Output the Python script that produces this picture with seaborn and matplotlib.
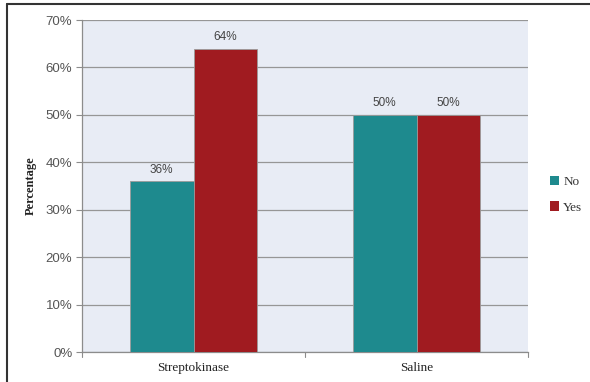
import matplotlib
matplotlib.use("Agg")
import matplotlib.pyplot as plt
import matplotlib.lines as mlines
from matplotlib.patches import Patch
from matplotlib.ticker import PercentFormatter
import pandas as pd
import seaborn as sns

groups = ["Streptokinase", "Saline"]
no_values = [36, 50]
yes_values = [64, 50]
series = ["No", "Yes"]
y_ticks = [0, 10, 20, 30, 40, 50, 60, 70]

colors = {"No": "#1E8A8E", "Yes": "#A01B20"}

df = pd.DataFrame({
    "group": groups * 2,
    "answer": ["No"] * len(groups) + ["Yes"] * len(groups),
    "value": no_values + yes_values,
})

sns.set_theme(style="white")
plt.rcParams["font.family"] = ["Liberation Serif", "DejaVu Serif"]

fig = plt.figure(figsize=(5.9, 3.82), dpi=100)
ax = fig.add_axes([0.139, 0.0785, 0.756, 0.869])
ax.set_facecolor("#E8ECF5")

sns.barplot(data=df, x="group", y="value", hue="answer", order=groups,
            hue_order=series, palette=colors, width=0.57, saturation=1,
            edgecolor="#9A9A9A", linewidth=0.6, legend=False, ax=ax, zorder=3)

ax.set_ylim(0, 70)
ax.set_xlim(-0.5, 1.5)
ax.set_yticks(y_ticks)
ax.yaxis.set_major_formatter(PercentFormatter(decimals=0))
ax.grid(axis="y", color="#969696", linewidth=0.9, zorder=0)
ax.set_axisbelow(True)

for side in ["top", "right"]:
    ax.spines[side].set_visible(False)
ax.spines["left"].set_color("#8C8C8C")
ax.spines["bottom"].set_color("#8C8C8C")
ax.spines["left"].set_linewidth(0.9)
ax.spines["bottom"].set_linewidth(0.9)

ax.tick_params(axis="y", length=4, width=0.8, color="#8C8C8C", labelsize=9.5,
               labelcolor="#555555", pad=3, left=True)
ax.tick_params(axis="x", length=0, labelsize=9.5, labelcolor="#222222", pad=7)
for lbl in ax.get_yticklabels():
    lbl.set_family(["Liberation Sans", "DejaVu Sans"])
for x in [-0.5, 0.5, 1.5]:
    ax.plot([x, x], [0, -1.0], color="#8C8C8C", lw=0.8, clip_on=False)

ax.set_xlabel("")
ax.set_ylabel("Percentage", fontsize=9, fontweight="bold", color="#222222",
              labelpad=6)

for container in ax.containers:
    ax.bar_label(container, labels=[f"{v:.0f}%" for v in container.datavalues],
                 padding=4, fontsize=8.5, color="#444444",
                 family=["Liberation Sans", "DejaVu Sans"])

handles = [Patch(facecolor=colors[s], edgecolor="none", label=s) for s in series]
fig.legend(handles=handles, loc="center left", bbox_to_anchor=(0.912, 0.49),
           frameon=False, fontsize=9.5, handlelength=0.7, handleheight=0.7,
           handletextpad=0.3, labelspacing=1.0, labelcolor="#333333")

# outer frame
fig.add_artist(mlines.Line2D([0.012, 1.0], [0.99, 0.99], color="#333333", lw=1.5,
                             transform=fig.transFigure))
fig.add_artist(mlines.Line2D([0.012, 0.012], [0.0, 0.99], color="#333333", lw=1.5,
                             transform=fig.transFigure))

fig.savefig("out.png", dpi=100)
